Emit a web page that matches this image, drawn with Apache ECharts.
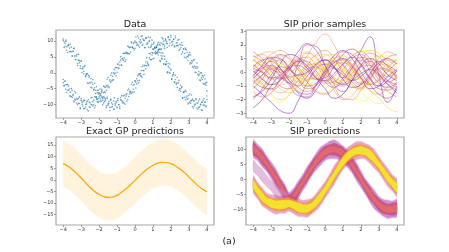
<!DOCTYPE html>
<html><head><meta charset="utf-8">
<script src="https://cdn.jsdelivr.net/npm/echarts@6/dist/echarts.min.js"></script>
<style>html,body{margin:0;padding:0;background:#fff}#c{width:449px;height:252px}</style>
</head><body><div id="c"></div>
<script>
// ---------- data ----------
const xTicks = [-4,-3,-2,-1,0,1,2,3,4];
const yTicksData = [-10,-5,0,5,10];
const yTicksPrior = [-3,-2,-1,0,1,2,3];
const yTicksGP = [-15,-10,-5,0,5,10,15];
const yTicksSip = [-10,-5,0,5,10];

const dataX = [-4,-3.95,-3.9,-3.85,-3.8,-3.75,-3.7,-3.65,-3.6,-3.55,-3.5,-3.45,-3.4,-3.35,-3.3,-3.25,-3.2,-3.15,-3.1,-3.05,
-3,-2.95,-2.9,-2.85,-2.8,-2.75,-2.7,-2.65,-2.6,-2.55,-2.5,-2.45,-2.4,-2.35,-2.3,-2.25,-2.2,-2.15,-2.1,-2.05,
-2,-1.95,-1.9,-1.85,-1.8,-1.75,-1.7,-1.65,-1.6,-1.55,-1.5,-1.45,-1.4,-1.35,-1.3,-1.25,-1.2,-1.15,-1.1,-1.05,
-1,-0.95,-0.9,-0.85,-0.8,-0.75,-0.7,-0.65,-0.6,-0.55,-0.5,-0.45,-0.4,-0.35,-0.3,-0.25,-0.2,-0.15,-0.1,-0.05,
0,0.05,0.1,0.15,0.2,0.25,0.3,0.35,0.4,0.45,0.5,0.55,0.6,0.65,0.7,0.75,0.8,0.85,0.9,0.95,
1,1.05,1.1,1.15,1.2,1.25,1.3,1.35,1.4,1.45,1.5,1.55,1.6,1.65,1.7,1.75,1.8,1.85,1.9,1.95,
2,2.05,2.1,2.15,2.2,2.25,2.3,2.35,2.4,2.45,2.5,2.55,2.6,2.65,2.7,2.75,2.8,2.85,2.9,2.95,
3,3.05,3.1,3.15,3.2,3.25,3.3,3.35,3.4,3.45,3.5,3.55,3.6,3.65,3.7,3.75,3.8,3.85,3.9,3.95,4];
const dataYA = [10.2,8.0,9.3,10.3,8.2,6.4,8.6,7.8,6.7,8.1,
5.2,6.7,7.7,5.3,4.1,5.3,2.9,5.8,3.2,2.2,
3.6,0.1,1.8,0.5,1.9,-1.2,-0.5,-3.2,-0.8,-1.0,
-3.2,-4.6,-3.0,-2.2,-5.3,-4.7,-6.5,-4.4,-6.3,-8.2,
-6.3,-5.1,-8.6,-7.6,-10.1,-7.5,-9.1,-8.2,-10.4,-7.7,
-10.2,-9.6,-11.9,-8.6,-9.5,-10.7,-8.9,-11.5,-9.8,-9.0,
-10.8,-8.1,-10.0,-10.7,-8.6,-7.2,-9.0,-9.3,-7.1,-9.9,
-7.3,-6.6,-8.4,-5.1,-6.7,-5.8,-6.5,-3.0,-5.2,-3.7,
-2.6,-4.8,-1.9,-2.5,-0.3,-2.4,-0.2,-1.1,2.0,0.7,
-0.5,2.4,3.4,2.2,3.4,2.3,6.1,4.2,4.1,6.4,
6.2,4.6,8.0,6.8,8.1,6.6,9.6,7.5,8.7,7.3,
11.1,8.9,9.9,8.4,10.7,9.3,8.0,11.4,10.4,9.3,
11.2,8.6,9.9,10.6,8.1,11.0,8.5,9.5,8.6,10.5,
7.4,8.8,5.9,8.7,7.5,6.1,7.8,4.7,6.4,5.1,
5.8,2.8,5.6,2.9,3.5,1.6,4.2,1.5,0.1,1.4,
1.8,-0.9,-0.4,-2.4,-0.1,-2.1,-1.3,-3.6,-1.9,-3.9,
-3.0];
const dataYA2 = [10.7,9.7,8.3,9.9,7.1,8.5,8.9,6.7,9.0,6.6,
5.4,6.9,7.7,5.3,4.2,5.8,2.3,4.0,3.9,1.4,
3.8,1.3,1.3,-0.3,2.3,-0.9,-0.3,-0.2,-3.3,-1.4,
-3.0,-1.8,-4.8,-3.6,-5.4,-3.3,-5.5,-7.6,-5.6,-5.5,
-7.6,-7.1,-9.1,-6.1,-8.7,-9.5,-7.9,-8.7,-10.9,-8.1,
-9.8,-9.0,-10.9,-8.3,-10.8,-9.9,-11.5,-7.9,-10.3,-9.4,
-11.0,-8.7,-10.1,-11.3,-7.8,-8.6,-9.5,-7.3,-9.6,-8.0,
-6.8,-8.9,-5.5,-7.5,-5.9,-6.2,-3.6,-6.1,-3.9,-6.1,
-2.5,-3.0,-3.5,-0.9,-3.1,-0.5,-0.9,0.7,-1.4,2.4,
0.7,2.2,1.3,4.8,2.9,2.5,4.7,6.0,4.2,5.6,
4.4,7.5,6.3,7.8,6.3,8.7,7.3,8.9,9.4,7.6,
9.3,10.7,9.0,7.7,10.3,9.9,9.2,11.1,8.5,10.4,
11.8,9.7,9.0,10.5,8.4,11.6,9.4,8.6,10.3,7.0,
9.0,7.9,9.5,6.6,7.5,4.9,7.4,7.3,5.2,3.9,
5.5,6.4,3.2,3.8,2.0,4.0,2.1,0.2,2.0,3.1,
-0.5,0.4,-2.3,0.1,-1.6,-0.9,-3.3,-0.8,-3.5,-3.1,
-5.7];
const dataYB = [-2.1,-3.9,-2.6,-5.2,-3.7,-5.4,-4.2,-7.3,-6.1,-7.5,
-5.6,-6.8,-8.9,-8.3,-6.3,-9.5,-8.4,-9.6,-7.6,-11.1,
-8.7,-9.9,-9.1,-11.3,-8.7,-10.8,-9.8,-8.9,-12.0,-9.3,
-10.9,-7.9,-10.0,-9.1,-10.1,-7.5,-10.4,-7.7,-8.3,-9.3,
-6.4,-8.0,-6.6,-5.2,-8.1,-6.3,-4.4,-6.2,-4.0,-4.4,
-1.5,-4.7,-2.6,-3.0,-0.1,-2.3,0.0,-0.4,1.6,-0.9,
1.6,2.7,1.3,2.4,5.1,2.3,4.4,4.0,6.2,6.1,
4.1,6.2,8.4,6.1,7.9,6.5,9.4,8.0,9.4,7.2,
10.0,9.6,8.7,11.6,8.6,9.8,9.4,11.5,8.6,10.7,
10.3,8.0,11.1,9.0,9.5,11.3,10.0,7.9,8.6,10.3,
7.5,9.1,8.1,6.1,8.4,6.2,7.0,7.4,3.6,5.4,
4.3,6.2,2.8,4.3,2.8,3.6,0.3,2.0,0.2,2.8,
0.8,-2.0,-1.0,0.0,-3.0,-2.1,-3.6,-1.4,-3.2,-5.6,
-5.2,-3.9,-4.7,-8.0,-6.2,-7.7,-5.5,-7.7,-7.3,-9.8,
-7.1,-9.2,-8.9,-7.0,-10.6,-8.8,-10.5,-9.9,-8.1,-9.5,
-11.5,-8.9,-10.7,-9.9,-9.3,-11.8,-10.2,-8.1,-9.2,-10.5,
-8.4];
const dataYB2 = [-3.1,-4.2,-2.7,-3.8,-6.2,-3.7,-5.6,-5.1,-7.3,-5.0,
-7.8,-7.2,-9.2,-5.9,-8.6,-8.0,-10.0,-8.0,-9.7,-11.3,
-8.2,-9.3,-10.5,-8.7,-11.3,-10.0,-9.2,-11.6,-8.5,-10.8,
-9.5,-10.1,-7.8,-10.5,-8.6,-11.0,-7.7,-8.3,-9.1,-6.7,
-9.0,-6.6,-7.2,-5.7,-7.9,-4.2,-6.0,-4.6,-5.5,-2.1,
-3.9,-4.4,-2.2,-0.8,-2.6,-1.1,-2.2,1.0,-0.1,1.6,
0.2,2.8,1.6,3.4,4.0,2.5,4.5,6.1,4.7,3.6,
6.5,6.4,6.0,8.1,5.9,8.1,9.8,8.1,7.7,9.5,
7.7,11.3,9.4,9.0,11.0,8.1,10.4,9.7,11.6,9.0,
10.2,7.9,10.8,11.0,9.2,8.1,10.0,11.1,8.2,9.0,
7.4,9.6,7.8,6.0,8.0,9.1,5.6,6.5,3.9,6.3,
4.6,5.3,2.8,5.2,2.5,2.7,0.0,2.9,1.6,-0.1,
1.2,-1.9,-0.7,-0.5,-2.9,-0.8,-3.2,-4.6,-3.2,-2.4,
-4.9,-5.9,-4.4,-7.9,-6.1,-6.0,-8.5,-5.9,-8.3,-8.1,
-9.5,-6.6,-9.6,-8.7,-8.3,-11.1,-8.8,-10.0,-8.5,-11.1,
-9.5,-10.9,-8.3,-10.1,-11.7,-9.3,-8.7,-10.2,-9.3,-10.7,
-7.3];

const priorX = [-4,-3.5,-3,-2.5,-2,-1.5,-1,-0.5,0,0.5,1,1.5,2,2.5,3,3.5,4];
const priorSamples = [
 [-0.5,0.2,0.8,0.3,-0.6,-1.0,-0.3,0.5,0.9,0.4,-0.4,0.3,1.6,2.6,-0.2,-2.2,-1.0],
 [-1.2,-0.5,0.2,-0.3,-0.8,0.6,2.0,1.9,0.5,-0.9,-1.4,-0.6,0.4,0.8,0.1,-0.6,-0.9],
 [1.1,1.3,0.7,-0.2,-0.4,0.3,1.2,2.2,2.8,2.0,0.6,-0.5,-0.9,-0.3,0.5,0.9,0.6],
 [0.3,0.6,0.9,0.7,0.2,-0.3,-0.6,-0.2,0.5,1.1,1.0,0.2,-0.7,-1.4,-1.9,-2.6,-2.9],
 [-1.0,-1.6,-2.2,-2.8,-3.0,-2.1,-0.8,0.2,0.6,0.3,-0.2,-0.6,-0.3,0.3,0.8,0.5,0.1],
 [-2.6,-2.0,-1.0,-0.4,-0.8,-1.5,-1.9,-1.3,-0.2,0.7,1.0,0.5,-0.4,-1.2,-1.0,-0.3,0.2],
 [1.2,0.8,0.1,-0.5,-0.2,0.6,1.4,1.1,0.2,-0.6,-0.8,-0.1,0.8,1.4,1.1,0.4,-0.3],
 [0.5,0.1,-0.6,-1.2,-1.5,-1.0,0.0,0.8,1.2,1.3,0.9,0.2,-0.5,-0.8,-0.4,0.3,1.0],
 [0.0,0.4,0.9,1.3,1.0,0.2,-0.7,-1.4,-1.6,-1.2,-0.4,0.5,1.1,0.8,-0.1,-0.7,-0.4],
 [-0.3,-0.9,-1.3,-0.9,0.1,0.9,1.1,0.5,-0.4,-1.1,-1.9,-2.0,-1.3,-0.2,0.6,0.4,-0.2],
 [-1.8,-1.3,-0.4,0.4,0.8,0.4,-0.5,-1.3,-1.5,-0.9,0.0,0.9,1.6,1.5,0.7,-0.1,-0.5],
 [0.4,0.9,1.0,0.3,-0.6,-1.4,-1.6,-0.9,0.2,1.2,1.6,1.0,0.0,-0.9,-1.6,-1.9,-1.2],
 [-0.8,-0.2,0.5,0.9,0.4,-0.5,-1.2,-1.0,-0.2,0.3,0.0,-0.7,-1.1,-0.5,0.5,1.1,1.3],
 [0.8,1.4,1.5,0.9,0.0,-0.7,-0.6,0.2,0.9,0.8,0.2,-0.2,0.1,0.8,1.2,0.9,0.3],
 [-0.5,-1.0,-1.8,-2.2,-1.6,-0.5,0.4,0.7,0.3,-0.4,-1.0,-1.6,-2.1,-1.8,-0.9,0.0,0.4],
 [-1.8,-1.4,-0.5,0.6,1.3,1.1,0.3,-0.4,-0.6,-0.1,0.6,1.1,0.6,-0.4,-1.0,-0.6,0.1],
 [0.2,-0.4,-1.1,-1.5,-1.2,-0.3,0.5,0.6,-0.2,-1.3,-2.0,-1.7,-0.8,0.2,1.0,1.5,1.2],
 [1.0,0.5,0.0,0.1,0.6,1.2,1.5,1.0,0.1,-0.7,-0.8,0.1,1.1,1.6,1.4,0.6,-0.3],
 [-0.2,0.3,0.5,0.0,-0.9,-1.7,-1.8,-1.0,0.1,0.8,0.5,-0.3,-0.8,-0.4,0.3,0.2,-0.5],
 [0.6,0.0,-0.5,-0.3,0.4,1.0,0.7,-0.1,-0.8,-0.7,0.2,1.0,1.3,0.6,-0.6,-1.4,-1.8],
 [-0.6,-1.1,-1.2,-0.5,0.3,0.5,0.1,-0.5,-0.4,0.4,1.3,1.7,1.2,0.1,-0.8,-1.1,-0.7],
 [-1.3,-0.7,0.1,0.6,0.3,-0.4,-0.9,-0.6,0.3,0.8,0.4,-0.5,-1.4,-2.0,-2.3,-1.6,-0.8],
 [-0.4,0.1,0.4,0.2,-0.3,-0.2,0.5,1.3,1.6,1.0,0.0,-0.9,-1.2,-0.6,0.2,0.1,-0.4],
 [0.9,0.4,-0.3,-1.0,-1.2,-0.6,0.2,0.4,-0.1,-0.8,-1.0,-0.4,0.4,0.5,-0.1,-0.7,-1.1],
 [1.5,1.0,0.3,0.0,0.4,0.9,0.8,0.1,-0.7,-1.1,-0.6,0.3,0.9,0.5,-0.3,-0.9,-1.3],
 [-0.9,-0.3,0.6,1.2,1.0,0.2,-0.5,-0.3,0.4,1.0,1.2,0.6,-0.3,-0.9,-0.5,0.4,0.9],
 [0.1,-0.5,-0.9,-0.6,0.2,0.8,0.5,-0.4,-1.2,-1.9,-1.6,-0.6,0.5,1.0,0.6,-0.2,-0.6],
 [0.7,1.1,0.9,0.2,-0.7,-1.3,-1.1,-0.3,0.4,0.6,0.2,-0.4,-0.2,0.5,1.1,1.2,0.8],
 [-1.4,-1.8,-1.5,-0.6,0.3,0.7,0.3,-0.4,-0.7,-0.3,0.5,1.2,1.5,1.0,0.2,-0.3,0.1],
 [0.3,0.0,-0.4,-0.2,0.5,1.5,2.1,1.6,0.5,-0.5,-0.9,-0.6,-0.1,0.2,-0.2,-0.9,-1.5],
 [-0.2,-0.8,-1.6,-2.0,-1.7,-0.9,-0.1,0.3,0.1,-0.4,-0.6,-0.1,0.6,1.0,0.8,0.2,-0.3],
 [-2.0,-1.2,-0.2,0.4,0.2,-0.5,-1.0,-0.8,0.0,0.9,1.5,1.3,0.5,-0.5,-1.2,-1.3,-0.8],
 [0.4,0.8,1.3,1.6,1.2,0.4,-0.3,-0.5,-0.1,0.5,0.7,0.3,-0.5,-1.3,-1.6,-1.0,-0.2],
 [-0.7,-0.2,0.3,0.2,-0.4,-1.1,-1.4,-0.9,0.0,0.7,0.9,0.4,-0.4,-0.9,-0.6,0.1,0.7],
 [1.3,0.6,-0.3,-0.9,-0.8,-0.2,0.6,1.2,1.3,0.7,-0.2,-1.0,-1.3,-0.8,0.0,0.6,0.9],
 [-0.3,0.5,1.1,1.0,0.3,-0.2,0.0,0.6,0.9,0.4,-0.5,-1.1,-0.9,-0.1,0.7,1.0,0.6]
];

const gpX = [-4,-3.75,-3.5,-3.25,-3,-2.75,-2.5,-2.25,-2,-1.75,-1.5,-1.25,-1,-0.75,-0.5,-0.25,0,0.25,0.5,0.75,1,1.25,1.5,1.75,2,2.25,2.5,2.75,3,3.25,3.5,3.75,4];
const gpMean  = [7.0,6.0,4.6,2.8,0.8,-1.3,-3.3,-5.0,-6.3,-7.2,-7.6,-7.4,-6.7,-5.4,-3.9,-2.1,-0.2,1.7,3.5,5.0,6.3,7.2,7.6,7.5,7.0,6.0,4.7,3.1,1.3,-0.6,-2.5,-4.0,-5.2];
const gpUpper = [17.0,16.0,14.6,12.8,10.8,8.7,6.7,5.0,3.7,2.8,2.4,2.6,3.3,4.6,6.1,7.9,9.8,11.7,13.5,15.0,16.3,17.2,17.6,17.5,17.0,16.0,14.7,13.1,11.3,9.4,7.5,6.0,4.8];
const gpLower = [-3.0,-4.0,-5.4,-7.2,-9.2,-11.3,-13.3,-15.0,-16.3,-17.2,-17.6,-17.4,-16.7,-15.4,-13.9,-12.1,-10.2,-8.3,-6.5,-5.0,-3.7,-2.8,-2.4,-2.5,-3.0,-4.0,-5.3,-6.9,-8.7,-10.6,-12.5,-14.0,-15.2];

const sipX = [-4,-3.75,-3.5,-3.25,-3,-2.75,-2.5,-2.25,-2,-1.75,-1.5,-1.25,-1,-0.75,-0.5,-0.25,0,0.25,0.5,0.75,1,1.25,1.5,1.75,2,2.25,2.5,2.75,3,3.25,3.5,3.75,4];
const sipPathP = [10.3,8.9,7.2,5.2,3.0,0.6,-1.9,-4.4,-7.0,-5.8,-3.6,-1.2,1.3,3.7,5.9,7.7,9.0,9.8,10.0,9.5,8.5,6.9,4.9,2.6,0.1,-2.4,-4.7,-6.7,-8.4,-9.5,-10.0,-10.0,-9.6];
const sipPathQ = [-1.6,-3.8,-5.8,-7.2,-8.0,-8.4,-8.5,-8.3,-8.0,-8.6,-9.3,-9.7,-9.7,-9.0,-7.6,-5.8,-3.6,-1.2,1.3,3.7,5.9,7.6,8.8,9.5,9.7,9.3,8.3,6.8,4.9,2.7,0.6,-1.2,-2.8];
const sipPathR = [4.6,3.0,1.3,-0.5,-2.2,-3.8,-5.2,-6.3,-7.2];
const sipSpreadOuter = [2.9,2.7,3.0,2.6,2.8,3.1,2.7,2.9,2.6,2.8,3.0,2.7,2.9,2.6,2.8,3.0,2.7,2.9,3.1,2.8,2.6,2.9,2.7,3.0,2.8,2.6,2.9,3.1,2.7,2.8,3.0,2.7,2.9];
const sipSpreadMid = [2.1,1.9,2.2,2.0,1.8,2.1,2.0,2.2,1.9,2.0,2.1,1.8,2.0,2.2,1.9,2.1,2.0,1.8,2.1,2.0,2.2,1.9,2.0,2.1,1.8,2.0,2.2,1.9,2.1,2.0,1.8,2.1,2.0];
const sipSpreadInner = [1.1,1.0,1.2,0.9,1.1,1.0,1.2,1.1,0.9,1.0,1.2,1.1,1.0,0.9,1.1,1.2,1.0,1.1,0.9,1.0,1.2,1.1,1.0,0.9,1.1,1.0,1.2,1.1,0.9,1.0,1.1,1.0,1.2];

// ---------- chart ----------
const FONT = 'DejaVu Sans';
const priorColors = ['#8b0aa5','#b52f8c','#f48849','#fcd225','#7e03a8','#6a00a8','#e16462','#fdb42f',
  '#cc4778','#ed7953','#f7e225','#9c179e','#d8576b','#fca636','#f0f921','#5c01a6',
  '#f89540','#fbbf2b','#bd3786','#e8704f','#a62098','#f1f525','#f2844b','#db5c68',
  '#cc4778','#fca636','#6a00a8','#f0f921','#e16462','#9c179e','#fdb42f','#b52f8c',
  '#f48849','#d8576b','#fcce25','#8b0aa5'];

const fmt = v => (v < 0 ? '\u2212' : '') + Math.abs(v);
const gridBoxes = [
  {left:56, top:30, width:158, height:88},
  {left:246, top:30, width:158, height:88},
  {left:56, top:137, width:158, height:88},
  {left:246, top:137, width:158, height:88}
];
const yRanges = [[-14.25,13.5,yTicksData],[-3.35,3.1,yTicksPrior],[-19.5,18.5,yTicksGP],[-15.2,14.1,yTicksSip]];

function xAxisFor(i){
  return {type:'value', gridIndex:i, min:-4.4, max:4.4,
    splitLine:{show:false}, axisLine:{show:false, onZero:false},
    axisTick:{show:true, length:2, customValues:xTicks, lineStyle:{color:'#666', width:0.6}},
    axisLabel:{customValues:xTicks, fontSize:5, color:'#333', margin:2.5, fontFamily:FONT, formatter:fmt}};
}
function yAxisFor(i){
  const r = yRanges[i];
  return {type:'value', gridIndex:i, min:r[0], max:r[1],
    splitLine:{show:false}, axisLine:{show:false, onZero:false},
    axisTick:{show:true, length:2, customValues:r[2], lineStyle:{color:'#666', width:0.6}},
    axisLabel:{customValues:r[2], fontSize:5, color:'#333', margin:2.5, fontFamily:FONT, formatter:fmt}};
}
function band(gi, xs, lower, upper, color, opacity){
  return {type:'custom', xAxisIndex:gi, yAxisIndex:gi, data:[[xs[0], lower[0]]], silent:true,
    renderItem:function(params, api){
      const pts = [];
      for (let i=0;i<xs.length;i++) pts.push(api.coord([xs[i], upper[i]]));
      for (let i=xs.length-1;i>=0;i--) pts.push(api.coord([xs[i], lower[i]]));
      return {type:'polygon', shape:{points:pts, smooth:0.2}, style:{fill:color, opacity:opacity}};
    }};
}
function pathBand(gi, xs, center, spread, color, opacity, scale){
  const s = scale || 1;
  const lo = center.map((c,i)=>c - spread[i]*s);
  const hi = center.map((c,i)=>c + spread[i]*s);
  return band(gi, xs, lo, hi, color, opacity);
}

const series = [];
// Panel 1: data scatter
const scatterPts = [];
[dataYA, dataYA2, dataYB, dataYB2].forEach(arr => dataX.forEach((x,i)=>scatterPts.push([x, arr[i]])));
series.push({type:'scatter', xAxisIndex:0, yAxisIndex:0, symbolSize:1.6, silent:true,
  itemStyle:{color:'#1f77b4', opacity:0.65}, data: scatterPts});
// Panel 2: prior samples
priorSamples.forEach((s, k)=>{
  series.push({type:'line', xAxisIndex:1, yAxisIndex:1, smooth:0.5, showSymbol:false, silent:true,
    lineStyle:{width:1, color:priorColors[k % priorColors.length], opacity:0.5},
    data: priorX.map((x,i)=>[x, s[i]])});
});
// Panel 3: exact GP
series.push(band(2, gpX, gpLower, gpUpper, '#ffa500', 0.13));
series.push({type:'line', xAxisIndex:2, yAxisIndex:2, smooth:0.4, showSymbol:false, silent:true,
  lineStyle:{width:1.2, color:'#ffa500'}, data: gpX.map((x,i)=>[x, gpMean[i]])});
// Panel 4: SIP predictions
const rX = sipX.slice(0, sipPathR.length);
series.push(pathBand(3, sipX, sipPathP, sipSpreadOuter, '#8f0da4', 0.15, 1.12));
series.push(pathBand(3, sipX, sipPathP, sipSpreadOuter, '#9c179e', 0.38));
series.push(pathBand(3, sipX, sipPathP, sipSpreadMid, '#cc4778', 0.8));
series.push(pathBand(3, sipX, sipPathP, sipSpreadInner, '#ef7d4f', 0.5));
series.push(pathBand(3, rX, sipPathR, sipSpreadMid.slice(0, sipPathR.length), '#cf86bf', 0.55));
series.push(pathBand(3, sipX, sipPathQ, sipSpreadOuter, '#b12a90', 0.15, 1.12));
series.push(pathBand(3, sipX, sipPathQ, sipSpreadOuter, '#c8437b', 0.35));
series.push(pathBand(3, sipX, sipPathQ, sipSpreadMid, '#f7923f', 0.85));
series.push(pathBand(3, sipX, sipPathQ, sipSpreadInner, '#f3ee27', 0.85, 1.3));

const titleStyle = {fontSize:9.5, fontWeight:'normal', color:'#222', fontFamily:FONT};
const option = {
  animation:false,
  backgroundColor:'#fff',
  title:[
    {text:'Data', left:135, top:20, textAlign:'center', padding:0, textStyle:titleStyle},
    {text:'SIP prior samples', left:325, top:20, textAlign:'center', padding:0, textStyle:titleStyle},
    {text:'Exact GP predictions', left:135, top:127, textAlign:'center', padding:0, textStyle:titleStyle},
    {text:'SIP predictions', left:325, top:127, textAlign:'center', padding:0, textStyle:titleStyle},
    {text:'(a)', left:229, top:237, textAlign:'center', padding:0, textStyle:titleStyle}
  ],
  grid: gridBoxes.map(g=>Object.assign({show:true, borderColor:'#a8a8a8', borderWidth:1.2, containLabel:false}, g)),
  xAxis: [0,1,2,3].map(xAxisFor),
  yAxis: [0,1,2,3].map(yAxisFor),
  series: series
};
const chart = echarts.init(document.getElementById('c'));
chart.setOption(option);
</script></body></html>
